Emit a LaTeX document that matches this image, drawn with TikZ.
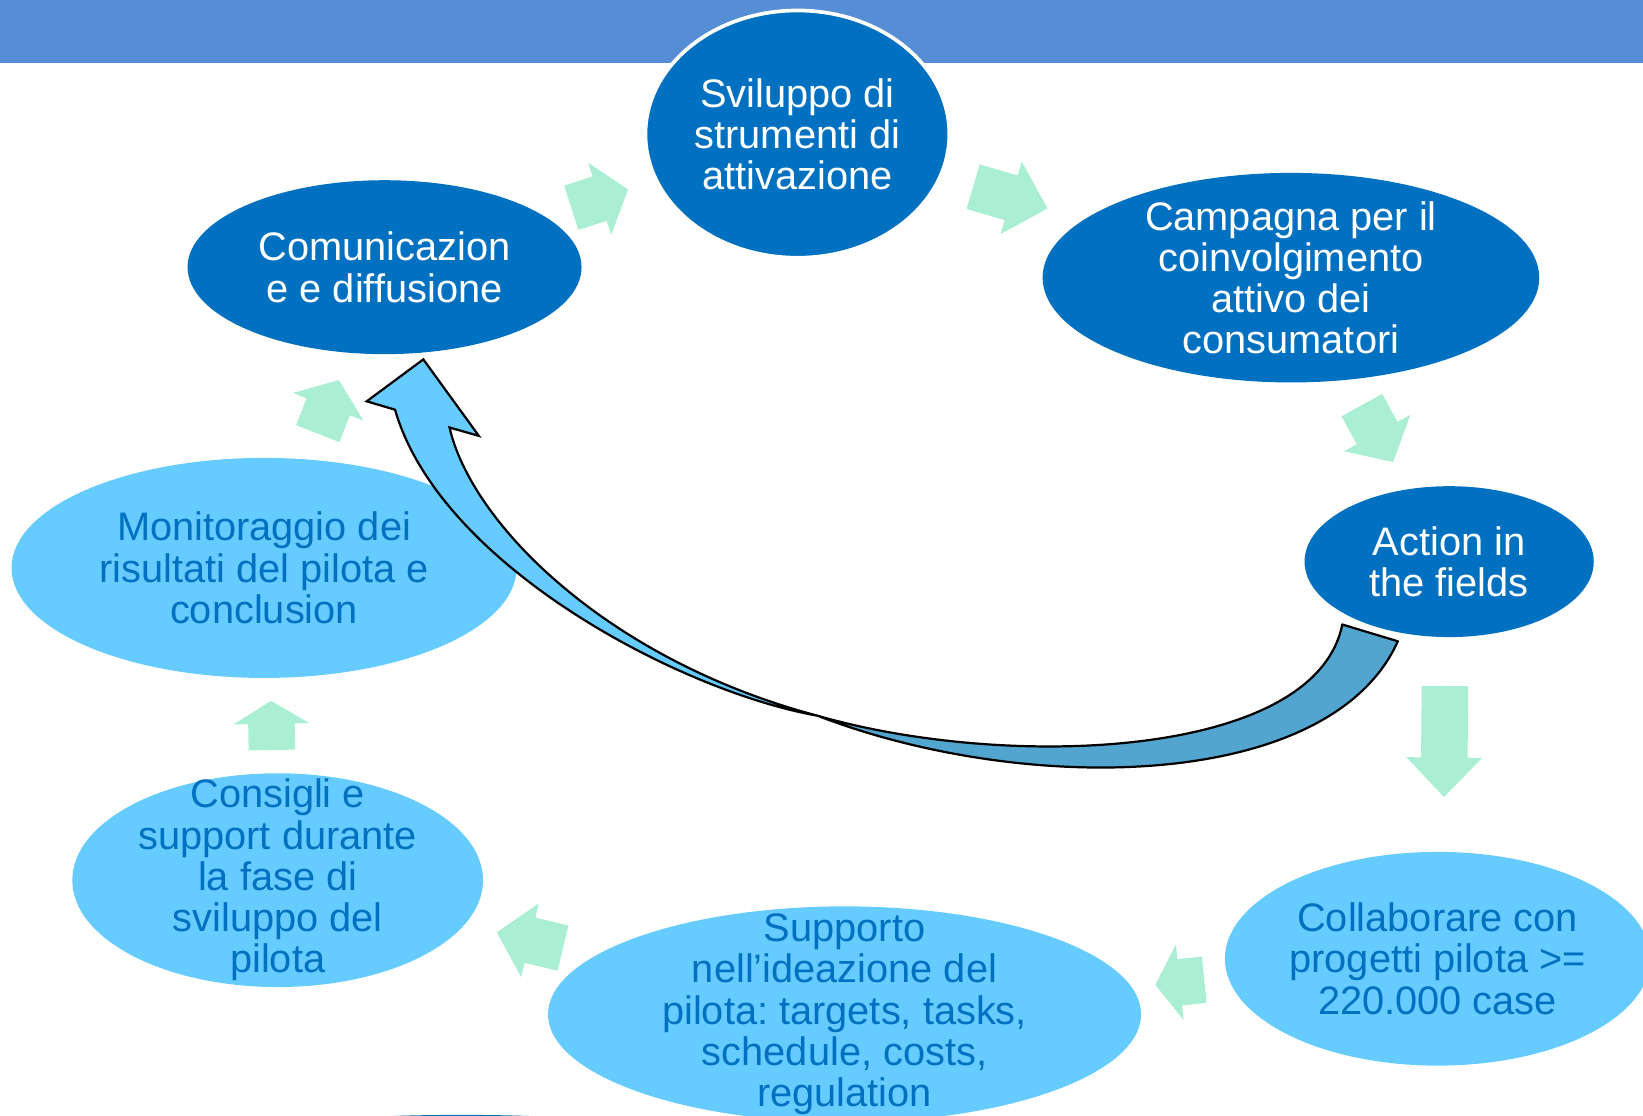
\documentclass[tikz,border=0pt]{standalone}
\usepackage{fontspec}
\setmainfont{Liberation Sans}
\usetikzlibrary{shapes.geometric,shapes.arrows}
\definecolor{bandblue}{RGB}{85,142,213}
\definecolor{darkblue}{RGB}{0,112,192}
\definecolor{lightblue}{RGB}{102,204,255}
\definecolor{mint}{RGB}{170,239,212}
\definecolor{ribbon}{RGB}{82,165,206}
\frenchspacing
\tikzset{
  dkbub/.style={ellipse,fill=darkblue,inner sep=0pt},
  ltbub/.style={ellipse,fill=lightblue,inner sep=0pt},
  dktxt/.style={align=center,text=white,inner sep=0pt,font=\fontsize{10.8}{11.2}\selectfont},
  lttxt/.style={dktxt,text=darkblue},
  flow/.style={single arrow,fill=mint,anchor=tail,inner xsep=0pt,inner ysep=2.15mm,minimum width=7.1mm,single arrow head extend=1.4mm},
}
\begin{document}
\begin{tikzpicture}[x=0.1mm,y=-0.1mm]
  \clip (0,0) rectangle (1568,1065);
  \fill[bandblue] (0,0) rectangle (1568,60);
  % dark steps
  \node[dkbub,draw=white,line width=1pt,minimum width=29mm,minimum height=23.6mm] (svi) at (761,128) {};
  \node[dkbub,minimum width=37.6mm,minimum height=16.6mm] (com) at (367,255) {};
  \node[dkbub,minimum width=47.4mm,minimum height=20mm] (cam) at (1232,265) {};
  \node[dkbub,minimum width=27.6mm,minimum height=14.4mm] (act) at (1383,536) {};
  \node[dkbub,minimum width=26mm,minimum height=1.6mm] (hid) at (440,1072) {};
  % light steps
  \node[ltbub,minimum width=48.2mm,minimum height=21mm] (mon) at (252,542) {};
  \node[ltbub,minimum width=39.2mm,minimum height=20.4mm] (csg) at (265,840) {};
  \node[ltbub,minimum width=56.6mm,minimum height=20.6mm] (sup) at (806,968) {};
  \node[ltbub,minimum width=40.6mm,minimum height=20.4mm] (col) at (1372,915) {};
  % texts
  \node[dktxt] (svit) at (svi) {Sviluppo di\\strumenti di\\attivazione};
  \node[dktxt] (comt) at (com) {Comunicazion\\e e diffusione};
  \node[dktxt] (camt) at (cam) {Campagna per il\\coinvolgimento\\attivo dei\\consumatori};
  \node[dktxt] (actt) at (act) {Action in\\the fields};
  \node[lttxt] (mont) at (mon) {Monitoraggio dei\\risultati del pilota e\\conclusion};
  \node[lttxt] (csgt) at (csg) {Consigli e\\support durante\\la fase di\\sviluppo del\\pilota};
  \node[lttxt] (supt) at (sup) {Supporto\\nell’ideazione del\\pilota: targets, tasks,\\schedule, costs,\\regulation};
  \node[lttxt] (colt) at (col) {Collaborare con\\progetti pilota >=\\220.000 case};
  % block arrows
  \node[flow,minimum height=5.7mm,single arrow tip angle=103.5,rotate=17.8] (ar1) at (544.5,198.5) {};
  \node[flow,minimum height=7.4mm,single arrow tip angle=90,rotate=-16.3] (ar2) at (928,178) {};
  \node[flow,minimum height=6.2mm,single arrow tip angle=97.8,rotate=-61.2] (ar3) at (1299.3,386) {};
  \node[flow,minimum height=10.6mm,single arrow tip angle=87.6,rotate=-90.5] (ar4) at (1379,654) {};
  \node[flow,minimum height=4.7mm,single arrow tip angle=114,rotate=185.8] (ar5) at (1150,935) {};
  \node[flow,minimum height=6.5mm,single arrow tip angle=96,rotate=166.6] (ar6) at (538,905) {};
  \node[flow,minimum height=4.7mm,single arrow tip angle=117.6,rotate=91] (ar7) at (259.5,716.5) {};
  \node[flow,minimum height=5.5mm,single arrow tip angle=105.5,rotate=68.6] (ar8) at (303,414.5) {};
  % curved return arrow
  \coordinate (hd) at (404,343);
  \coordinate (tw) at (780,683);
  \filldraw[fill=ribbon,line width=0.6pt,line join=round]
    (tw) .. controls (980,760) and (1270,755) .. (1334,612)
    -- (1281,596) .. controls (1255,725) and (960,735) .. (tw) -- cycle;
  \filldraw[fill=lightblue,line width=0.6pt]
    (tw) .. controls (650,660) and (420,540) .. (377,391)
    -- (350,383) -- (hd) -- (457,416) -- (429,408)
    .. controls (450,500) and (580,630) .. (tw) -- cycle;
\end{tikzpicture}
\end{document}
